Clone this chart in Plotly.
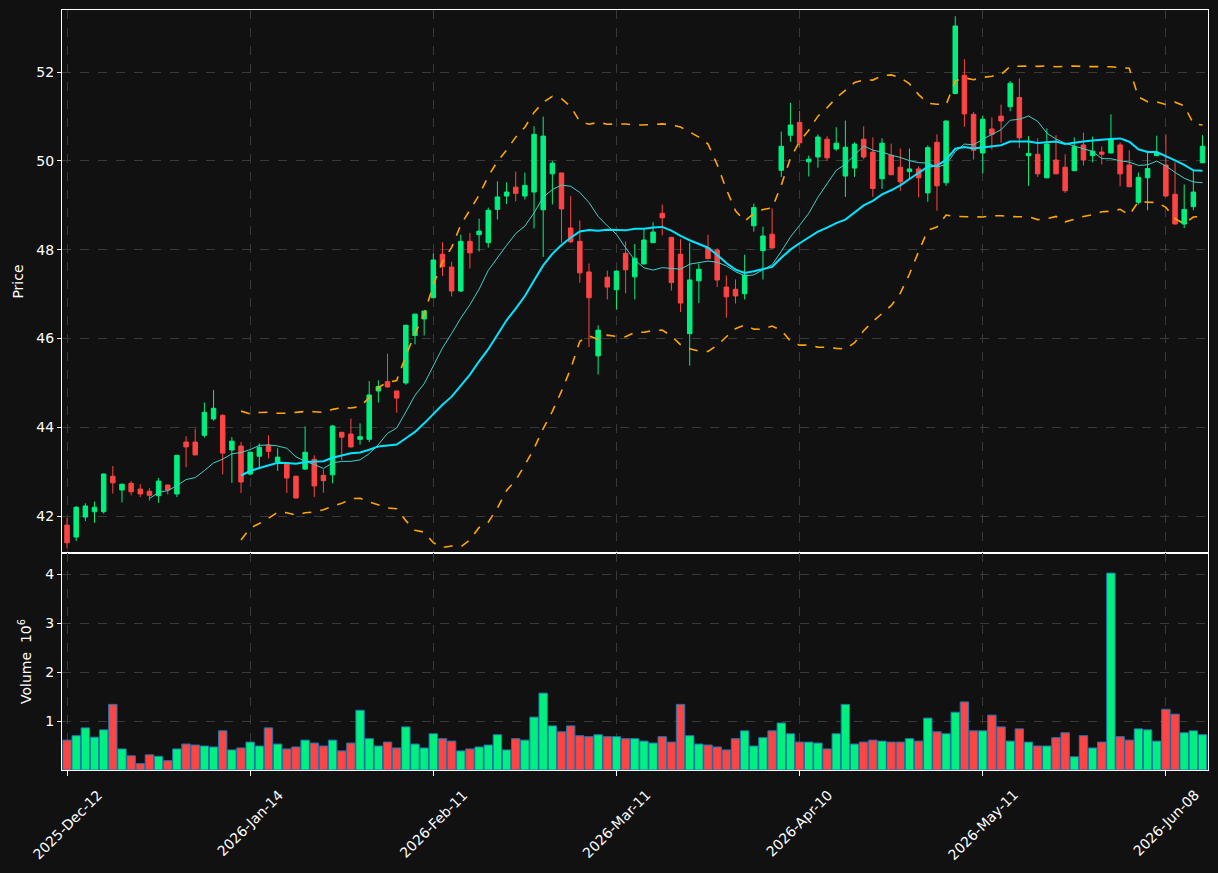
import plotly.graph_objects as go
import pandas as pd

# ---------------- data ----------------
opens = [
    41.80, 41.53, 41.98, 42.10, 42.10, 42.90, 42.59, 42.74, 42.61, 42.56,
    42.46, 42.70, 42.50, 43.67, 43.67, 43.82, 44.19, 44.27, 43.49, 43.58,
    42.95, 43.35, 43.60, 43.22, 43.19, 42.90, 43.06, 43.28, 42.92, 42.93,
    43.89, 43.85, 43.73, 43.73, 44.82, 45.03, 44.82, 45.00, 46.07, 46.44,
    46.92, 47.90, 47.61, 47.07, 48.19, 48.34, 48.16, 48.91, 49.21, 49.41,
    49.21, 49.30, 48.90, 49.71, 49.73, 48.49, 48.19, 47.50, 45.61, 47.38,
    47.10, 47.92, 47.39, 47.68, 48.16, 48.82, 48.28, 47.90, 46.11, 47.30,
    48.04, 47.99, 47.16, 47.11, 47.01, 48.54, 47.98, 48.35, 49.79, 50.58,
    50.87, 49.98, 50.09, 50.49, 50.27, 49.66, 49.84, 50.49, 50.20, 49.60,
    50.13, 49.86, 49.76, 49.82, 49.28, 50.42, 49.51, 51.52, 51.93, 51.05,
    50.18, 50.72, 51.01, 51.22, 51.43, 50.12, 50.15, 49.62, 50.02, 49.86,
    49.78, 50.36, 50.12, 50.20, 50.18, 50.36, 49.91, 49.07, 49.62, 50.12,
    49.91, 49.25, 48.58, 48.97, 49.96,
]
highs = [
    41.96, 42.23, 42.29, 42.33, 42.96, 43.13, 42.73, 42.79, 42.72, 42.63,
    42.86, 42.71, 43.38, 43.80, 43.97, 44.56, 44.84, 44.30, 43.78, 43.67,
    43.45, 43.64, 43.82, 43.53, 43.20, 42.91, 44.02, 43.37, 43.05, 44.05,
    43.89, 44.20, 44.09, 45.04, 45.06, 45.66, 44.83, 46.31, 46.56, 46.63,
    47.92, 48.17, 47.73, 48.34, 48.38, 48.70, 48.95, 49.54, 49.52, 49.76,
    49.74, 50.78, 51.00, 50.00, 49.73, 49.21, 48.66, 47.69, 46.30, 47.53,
    47.53, 48.19, 48.13, 48.49, 48.62, 49.02, 48.29, 48.24, 48.16, 47.69,
    48.34, 48.03, 47.42, 47.33, 47.89, 49.04, 48.52, 48.93, 50.66, 51.31,
    51.13, 50.12, 50.60, 50.56, 50.76, 50.91, 50.42, 50.78, 50.53, 50.51,
    50.39, 50.28, 50.28, 49.88, 50.35, 50.60, 50.91, 53.26, 52.29, 51.10,
    51.02, 50.98, 51.27, 51.80, 51.86, 50.56, 50.51, 50.73, 50.58, 50.15,
    50.53, 50.64, 50.55, 50.33, 51.05, 50.42, 50.24, 49.74, 50.23, 50.57,
    50.60, 49.97, 49.47, 49.79, 50.58,
]
lows = [
    41.27, 41.44, 41.89, 41.85, 42.06, 42.51, 42.31, 42.47, 42.43, 42.35,
    42.30, 42.49, 42.43, 43.10, 43.37, 43.77, 44.15, 42.94, 42.75, 42.52,
    42.92, 43.06, 43.30, 43.02, 42.52, 42.40, 43.04, 42.43, 42.53, 42.74,
    43.26, 43.55, 43.61, 43.67, 44.56, 44.90, 44.33, 44.96, 45.87, 46.07,
    46.91, 47.41, 46.95, 47.05, 47.58, 47.96, 48.05, 48.68, 49.03, 49.09,
    49.13, 48.48, 47.84, 49.02, 48.16, 48.15, 47.26, 45.81, 45.19, 46.88,
    46.65, 47.02, 46.88, 47.67, 48.15, 48.32, 47.08, 46.60, 45.39, 46.80,
    47.78, 47.16, 46.47, 46.79, 46.88, 48.41, 47.33, 48.03, 49.64, 50.43,
    50.30, 49.65, 49.85, 50.00, 50.23, 49.19, 49.64, 50.04, 49.19, 49.37,
    49.68, 49.33, 49.61, 49.18, 49.08, 48.88, 49.44, 51.50, 50.77, 50.03,
    49.72, 50.26, 50.41, 51.12, 50.29, 49.44, 49.64, 49.61, 49.70, 49.28,
    49.77, 49.90, 49.97, 49.92, 50.17, 49.43, 49.41, 49.02, 48.89, 50.11,
    49.20, 48.57, 48.49, 48.89, 49.95,
]
closes = [
    41.40, 42.20, 42.23, 42.20, 42.95, 42.75, 42.72, 42.55, 42.50, 42.47,
    42.79, 42.59, 43.37, 43.56, 43.38, 44.34, 44.43, 43.42, 43.69, 42.77,
    43.44, 43.55, 43.46, 43.33, 42.86, 42.41, 43.44, 42.68, 42.80, 44.03,
    43.78, 43.56, 43.79, 44.73, 44.92, 44.91, 44.66, 46.30, 46.55, 46.62,
    47.77, 47.62, 47.07, 48.19, 47.93, 48.42, 48.89, 49.19, 49.30, 49.27,
    49.45, 50.60, 50.56, 49.95, 48.92, 48.18, 47.48, 46.92, 46.19, 47.16,
    47.52, 47.55, 47.81, 48.22, 48.40, 48.72, 47.26, 46.80, 47.32, 47.56,
    47.80, 47.32, 46.94, 46.96, 47.43, 48.95, 48.31, 48.04, 50.33, 50.81,
    50.41, 50.04, 50.54, 50.07, 50.40, 50.31, 50.38, 50.09, 49.38, 50.40,
    49.69, 49.53, 49.82, 49.62, 50.30, 49.44, 50.90, 53.04, 51.06, 50.24,
    50.94, 50.60, 50.90, 51.75, 50.52, 50.17, 49.71, 50.38, 49.71, 49.33,
    50.32, 50.02, 50.22, 50.15, 50.49, 49.71, 49.42, 49.63, 49.83, 50.19,
    49.21, 48.58, 48.91, 49.30, 50.33,
]
volume_millions = [
    0.61, 0.70, 0.86, 0.67, 0.82, 1.34, 0.43, 0.29, 0.13, 0.31,
    0.28, 0.19, 0.43, 0.53, 0.51, 0.49, 0.47, 0.80, 0.41, 0.45,
    0.57, 0.49, 0.86, 0.53, 0.43, 0.47, 0.61, 0.55, 0.49, 0.61,
    0.39, 0.55, 1.22, 0.64, 0.49, 0.57, 0.45, 0.88, 0.53, 0.45,
    0.74, 0.64, 0.59, 0.39, 0.43, 0.47, 0.51, 0.72, 0.41, 0.64,
    0.61, 1.08, 1.57, 0.90, 0.78, 0.90, 0.70, 0.68, 0.72, 0.68,
    0.68, 0.64, 0.64, 0.59, 0.55, 0.68, 0.57, 1.34, 0.70, 0.53,
    0.51, 0.47, 0.41, 0.64, 0.80, 0.49, 0.66, 0.80, 0.96, 0.74,
    0.57, 0.57, 0.55, 0.43, 0.74, 1.34, 0.53, 0.57, 0.61, 0.59,
    0.57, 0.57, 0.64, 0.59, 1.06, 0.78, 0.74, 1.18, 1.39, 0.80,
    0.80, 1.12, 0.88, 0.59, 0.84, 0.57, 0.49, 0.49, 0.66, 0.76,
    0.27, 0.70, 0.45, 0.57, 4.02, 0.68, 0.61, 0.84, 0.82, 0.59,
    1.24, 1.14, 0.76, 0.80, 0.72,
]
tick_labels = ["2025-Dec-12", "2026-Jan-14", "2026-Feb-11", "2026-Mar-11",
               "2026-Apr-10", "2026-May-11", "2026-Jun-08"]
tick_every = 20

# ---------------- derived series ----------------
n = len(closes)
x = list(range(n))
c = pd.Series(closes)
ma10 = c.rolling(10).mean()
ma20 = c.rolling(20).mean()
sd20 = c.rolling(20).std(ddof=0)
upper = ma20 + 2 * sd20
lower = ma20 - 2 * sd20

UP = "#00f080"
DOWN = "#ff4444"
BG = "#111111"
GRID = "#3a3a3a"
FONT = "DejaVu Sans"

vol_colors = [UP if cl >= op else DOWN for op, cl in zip(opens, closes)]

fig = go.Figure()
fig.add_trace(go.Candlestick(
    x=x, open=opens, high=highs, low=lows, close=closes,
    increasing=dict(line=dict(color=UP, width=1), fillcolor=UP),
    decreasing=dict(line=dict(color=DOWN, width=1), fillcolor=DOWN),
    whiskerwidth=0, showlegend=False, xaxis="x", yaxis="y",
))
fig.add_trace(go.Scatter(x=x, y=ma10, mode="lines",
                         line=dict(color="#40d0c8", width=1),
                         showlegend=False, xaxis="x", yaxis="y"))
fig.add_trace(go.Scatter(x=x, y=ma20, mode="lines",
                         line=dict(color="#00e5ff", width=2),
                         showlegend=False, xaxis="x", yaxis="y"))
for band in (upper, lower):
    fig.add_trace(go.Scatter(x=x, y=band, mode="lines",
                             line=dict(color="#ffa500", width=1.6, dash="dash"),
                             showlegend=False, xaxis="x", yaxis="y"))
fig.add_trace(go.Bar(x=x, y=volume_millions, marker=dict(
    color=vol_colors, line=dict(color="#1f77b4", width=1)),
    width=0.92, showlegend=False, xaxis="x2", yaxis="y2"))

xr = [-0.55, n - 0.4]
common_axis = dict(showline=True, linecolor="white", linewidth=1, mirror=True,
                   showgrid=True, gridcolor=GRID, griddash="dash", gridwidth=1,
                   zeroline=False, ticks="outside", tickcolor="white",
                   ticklen=4, tickfont=dict(color="white", size=14, family=FONT))

tickvals = list(range(0, n, tick_every))

# x tick labels centred on their ticks and rotated 45 degrees
annotations = [
    dict(x=tv, y=0, xref="x2", yref="paper", text=lab, showarrow=False,
         textangle=-45, xanchor="center", yanchor="top", yshift=-14,
         font=dict(color="white", size=14, family=FONT))
    for tv, lab in zip(tickvals, tick_labels)
]

fig.update_layout(
    width=1218, height=873,
    paper_bgcolor=BG, plot_bgcolor=BG,
    margin=dict(l=62, r=10, t=10, b=103),
    font=dict(family=FONT, color="white", size=14),
    annotations=annotations,
    xaxis=dict(common_axis, domain=[0, 1], range=xr, anchor="y",
               tickvals=tickvals, showticklabels=False, ticks="",
               rangeslider=dict(visible=False)),
    yaxis=dict(common_axis, domain=[0.2855, 1], range=[41.17, 53.40],
               tickvals=[42, 44, 46, 48, 50, 52],
               title=dict(text="Price", standoff=9,
                          font=dict(color="white", size=14, family=FONT))),
    xaxis2=dict(common_axis, domain=[0, 1], range=xr, anchor="y2",
                tickvals=tickvals, showticklabels=False, ticklen=5),
    yaxis2=dict(common_axis, domain=[0, 0.2855], range=[0, 4.43],
                tickvals=[1, 2, 3, 4],
                title=dict(text="Volume  10<sup>6</sup>", standoff=10,
                           font=dict(color="white", size=14, family=FONT))),
)

fig.write_html("out.html")
